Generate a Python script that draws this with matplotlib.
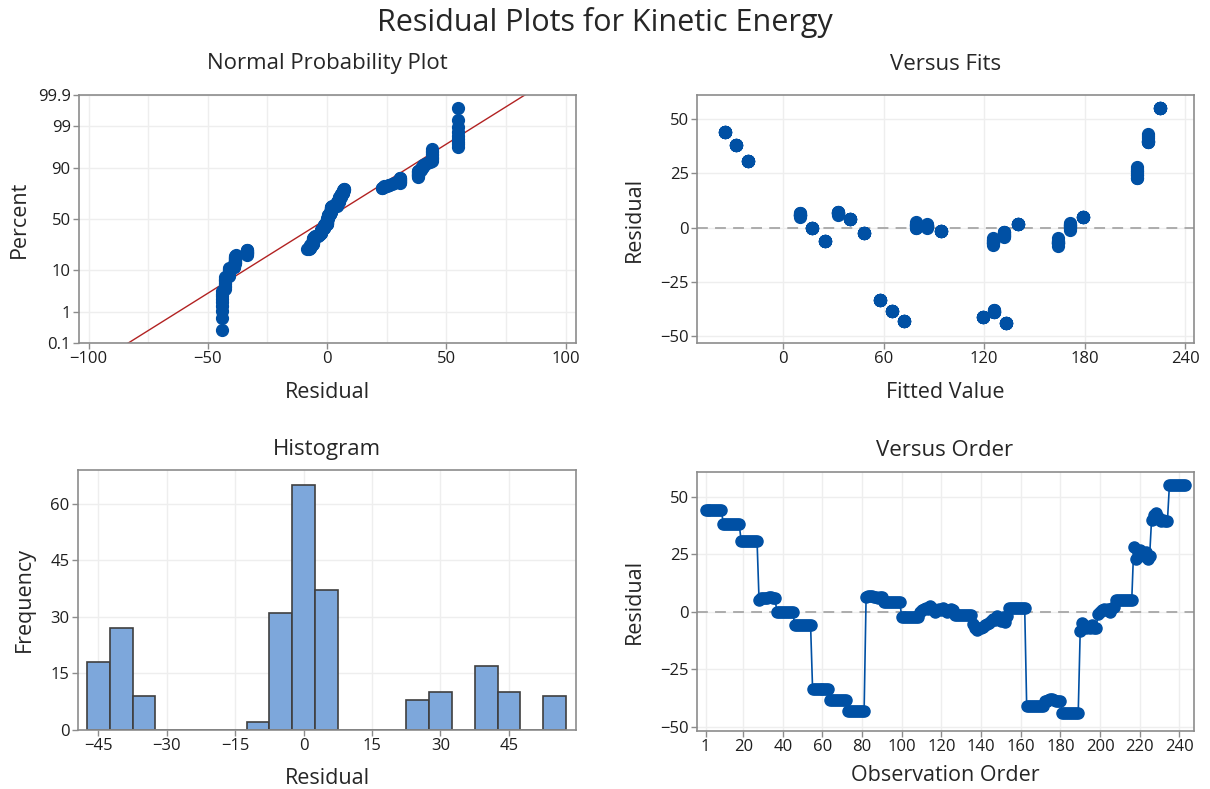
import numpy as np
import matplotlib
matplotlib.use("Agg")
import matplotlib.pyplot as plt
from statistics import NormalDist

# fitted value of each run of 9 observations (in observation order)
fitted_levels = [-35, -28, -21, 10, 17, 25, 58, 65, 72,
                 33, 40, 48, 79, 86, 94, 125, 132, 140,
                 119, 126, 133, 164, 171, 179, 211, 218, 225]

# residuals of each run, 9 observations per run
group_residuals = [
    [44, 44, 44, 44, 44, 44, 44, 44, 44],
    [38, 38, 38, 38, 38, 38, 38, 38, 38],
    [30.5, 30.5, 30.5, 30.5, 30.5, 30.5, 30.5, 30.5, 30.5],
    [5, 6, 6, 6, 6, 6.5, 6.5, 6, 6],
    [0, 0, 0, 0, 0, 0, 0, 0, 0],
    [-6, -6, -6, -6, -6, -6, -6, -6, -6],
    [-33.5, -33.5, -33.5, -33.5, -33.5, -33.5, -33.5, -33.5, -33.5],
    [-38.5, -38.5, -38.5, -38.5, -38.5, -38.5, -38.5, -38.5, -38.5],
    [-43, -43, -43, -43, -43, -43, -43, -43, -43],
    [6.5, 7, 7, 7, 6.5, 6.5, 6, 6.5, 6.5],
    [4, 4, 4, 4, 4, 4, 4, 4, 4],
    [-2.4, -2.4, -2.4, -2.4, -2.4, -2.4, -2.4, -2.4, -2.4],
    [0, 0.5, 1, 1.5, 1, 2.6, 1.5, 0.5, 0],
    [0.5, 1, 0.5, 1.5, 0.5, 0, 0.5, 1, 0.5],
    [-1.5, -1.5, -1.5, -1.5, -1.5, -1.5, -1.5, -1.5, -1.5],
    [-5.5, -7, -7.8, -7.2, -7, -6.5, -6, -5.5, -5],
    [-4, -3, -3.5, -2, -3, -4, -2.2, -4.5, -2],
    [1.5, 1.5, 1.5, 1.5, 1.5, 1.5, 1.5, 1.5, 1.5],
    [-41, -41, -41, -41, -41, -41, -41, -41, -41],
    [-39, -39, -38.5, -38, -38, -38.5, -39, -39, -39],
    [-44, -44, -44, -44, -44, -44, -44, -44, -44],
    [-8.5, -5, -6, -7, -6.5, -7, -6, -7, -7.2],
    [-1, 0, 0.5, 1, 0.5, 1, 0, 1.5, 2],
    [5, 5, 5, 5, 5, 5, 5, 5, 5],
    [28, 22.8, 26, 27, 25, 24, 26, 23, 24],
    [40, 42, 43, 41, 40, 39.5, 40, 39.5, 39.5],
    [55, 55, 55, 55, 55, 55, 55, 55, 55],
]

pct_ticks = [0.1, 1, 10, 50, 90, 99, 99.9]
hist_edges = np.arange(-47.5, 60, 5)
order_ticks = [1, 20, 40, 60, 80, 100, 120, 140, 160, 180, 200, 220, 240]

residuals = np.concatenate([np.array(g, dtype=float) for g in group_residuals])
fitted = np.repeat(fitted_levels, 9)
n = len(residuals)

plt.rcParams['font.family'] = ['Open Sans', 'DejaVu Sans']

BLUE = '#0050A4'
TEXT = '#262626'
TICK = '#1E1E1E'
FRAME = '#8C8C8C'
W, H = 1210, 789

fig = plt.figure(figsize=(W / 100, H / 100), dpi=100)


def box(left, top, right, bottom):
    return [left / W, 1 - bottom / H, (right - left) / W, (bottom - top) / H]


def style(ax):
    for s in ax.spines.values():
        s.set_color(FRAME)
        s.set_linewidth(1.2)
    ax.tick_params(direction='out', length=4, width=1, color=FRAME,
                   labelsize=12, labelcolor=TICK, pad=2)
    ax.grid(True, color='#EEEEEE', linewidth=1)
    ax.set_axisbelow(True)


def labels(ax, xl, yl, xpos, ypos):
    ax.set_xlabel(xl, fontsize=15.5, color=TEXT, va='center')
    ax.set_ylabel(yl, fontsize=15.5, color=TEXT, va='center', ha='center')
    ax.xaxis.set_label_coords(0.5, xpos)
    ax.yaxis.set_label_coords(ypos, 0.5)


def panel_title(x, y, text):
    fig.text(x / W, 1 - y / H, text, fontsize=16, color=TEXT,
             ha='center', va='center')


fig.text(0.5, 1 - 22 / H, 'Residual Plots for Kinetic Energy',
         fontsize=22, color=TEXT, ha='center', va='center')

# normal probability plot
ax1 = fig.add_axes(box(79, 95, 576, 343))
style(ax1)
norm = NormalDist()
srt = np.sort(residuals)
probs = (np.arange(1, n + 1) - 0.3) / (n + 0.4)
zs = np.array([norm.inv_cdf(p) for p in probs])
ax1.plot(srt, zs, 'o', color=BLUE, ms=8.5, zorder=3)
mu, sd = residuals.mean(), residuals.std(ddof=1)
xs = np.array([-110, 110])
ax1.plot(xs, (xs - mu) / sd, color='#B22222', lw=1, zorder=2)
ax1.set_xlim(-104, 104.3)
ax1.set_ylim(norm.inv_cdf(0.001), norm.inv_cdf(0.999))
ax1.set_xticks([-100, -50, 0, 50, 100])
ax1.set_xticks([-75, -25, 25, 75], minor=True)
ax1.tick_params(which='minor', length=0)
ax1.grid(True, which='minor', axis='x', color='#EEEEEE', linewidth=1)
ax1.set_yticks([norm.inv_cdf(p / 100) for p in pct_ticks])
ax1.set_yticklabels([str(p) for p in pct_ticks])
labels(ax1, 'Residual', 'Percent', -0.198, -0.12)
panel_title(327, 64, 'Normal Probability Plot')

# residuals versus fits
ax2 = fig.add_axes(box(697, 95, 1194, 343))
style(ax2)
ax2.axhline(0, color='#A6A6A6', lw=1.3, ls=(0, (6, 4)), zorder=2)
ax2.plot(fitted, residuals, 'o', color=BLUE, ms=8.5, zorder=3)
ax2.set_xlim(-51.5, 245.3)
ax2.set_ylim(-53.1, 61)
ax2.set_xticks([0, 60, 120, 180, 240])
ax2.set_yticks([-50, -25, 0, 25, 50])
labels(ax2, 'Fitted Value', 'Residual', -0.198, -0.127)
panel_title(946, 64, 'Versus Fits')

# histogram
ax3 = fig.add_axes(box(78, 470, 576, 730))
style(ax3)
ax3.hist(residuals, bins=hist_edges, color='#7DA7DB', edgecolor='#3F3F3F',
         linewidth=1.2, zorder=2)
ax3.set_xlim(-49.45, 59.7)
ax3.set_ylim(0, 68.9)
ax3.set_xticks([-45, -30, -15, 0, 15, 30, 45])
ax3.set_yticks([0, 15, 30, 45, 60])
labels(ax3, 'Residual', 'Frequency', -0.185, -0.108)
panel_title(327, 450, 'Histogram')

# residuals versus order
ax4 = fig.add_axes(box(697, 472, 1194, 731))
style(ax4)
ax4.axhline(0, color='#A6A6A6', lw=1.3, ls=(0, (6, 4)), zorder=2)
obs = np.arange(1, n + 1)
ax4.plot(obs, residuals, '-o', color=BLUE, ms=8, lw=1.2, zorder=3)
ax4.set_xlim(-3.3, 247.4)
ax4.set_ylim(-51.9, 60.7)
ax4.set_xticks(order_ticks)
ax4.set_yticks([-50, -25, 0, 25, 50])
labels(ax4, 'Observation Order', 'Residual', -0.171, -0.127)
panel_title(945, 450, 'Versus Order')

fig.savefig('out.png', dpi=100)
